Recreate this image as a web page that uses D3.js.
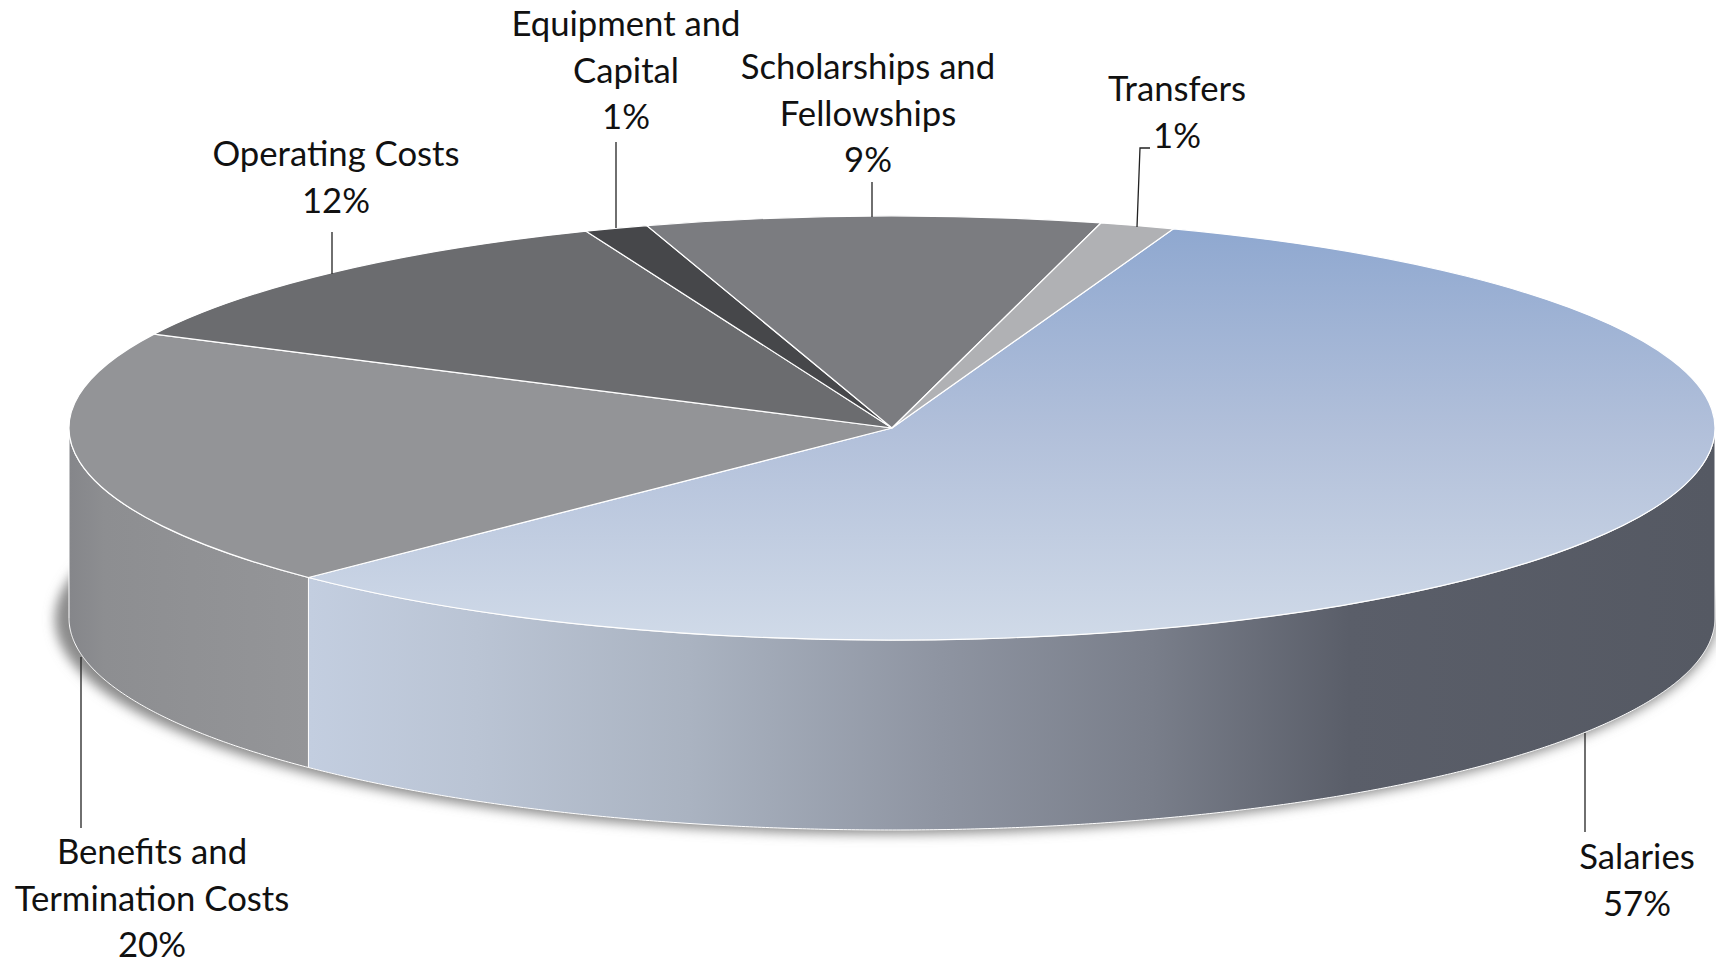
<!DOCTYPE html>
<html>
<head>
<meta charset="utf-8">
<script src="https://cdn.jsdelivr.net/npm/d3@7/dist/d3.min.js"></script>
<style>
html,body{margin:0;padding:0;background:#fff;overflow:hidden}
svg{display:block}
text{font-family:Lato,"Open Sans",sans-serif;font-size:34.7px;fill:#111;text-anchor:middle}
</style>
</head>
<body>
<svg id="chart" width="1716" height="963"></svg>
<script>
// Data, clockwise from the Salaries slice
const categories = ["Salaries", "Benefits and Termination Costs", "Operating Costs", "Equipment and Capital", "Scholarships and Fellowships", "Transfers"];
const sliceValues = [57, 19.76, 11.64, 1.25, 8.9, 1.47];
const percentLabels = ["57%", "20%", "12%", "1%", "9%", "1%"];
const labelLines = [["Salaries"], ["Benefits and", "Termination Costs"], ["Operating Costs"], ["Equipment and", "Capital"], ["Scholarships and", "Fellowships"], ["Transfers"]];

// Styles
const topFills = ["url(#salTop)", "#939497", "#6b6c6f", "#46474a", "#7b7c80", "#b0b1b4"];
const wallFills = ["url(#salWall)", "url(#benWall)", "#6b6c6f", "#46474a", "#7b7c80", "#b0b1b4"];

// Layout
const cx = 892, cy = 428, rx = 823, ry = 212, depth = 190;
const startDeg = 20;
const labelCentre = [1637, 152, 336, 626, 868, 1177];
const labelFirstBaseline = [869, 864, 166, 36, 79, 101];
const lineGap = 46.5;
const leaders = [
  [[1585, 733], [1585, 832]],
  [[81, 657], [81, 828]],
  [[332, 232], [332, 274]],
  [[616, 142], [616, 228]],
  [[872, 182], [872, 217]],
  [[1137, 227], [1140, 148], [1150, 148]]
];

const svg = d3.select("#chart");
const defs = svg.append("defs");

function gradient(id, attrs, stops, units) {
  const g = defs.append("linearGradient").attr("id", id).attr("gradientUnits", units);
  Object.entries(attrs).forEach(([k, v]) => g.attr(k, v));
  stops.forEach(([o, c]) => g.append("stop").attr("offset", o).attr("stop-color", c));
}
gradient("salTop", {x1: 0, x2: 0, y1: 0, y2: 1}, [[0, "#8fa8d0"], [0.5, "#b2c0da"], [1, "#d0dae8"]], "objectBoundingBox");
gradient("salWall", {x1: 309, x2: 1715, y1: 0, y2: 0}, [[0, "#c3cee0"], [0.12, "#bac4d4"], [0.27, "#aab3c1"], [0.45, "#8e94a1"], [0.6, "#797e8a"], [0.74, "#5a5e69"], [1, "#555963"]], "userSpaceOnUse");
gradient("benWall", {x1: 69, x2: 309, y1: 0, y2: 0}, [[0, "#85868a"], [0.15, "#8d8e91"], [1, "#949598"]], "userSpaceOnUse");

const blur = defs.append("filter").attr("id", "soft").attr("x", "-5%").attr("y", "-10%").attr("width", "110%").attr("height", "120%");
blur.append("feGaussianBlur").attr("stdDeviation", 6);

const pie = d3.pie().sort(null).value(d => d)
  .startAngle(startDeg * Math.PI / 180)
  .endAngle((startDeg + 360) * Math.PI / 180);
const slices = pie(sliceValues);

const edge = (a, y0) => [cx + rx * Math.sin(a), y0 - ry * Math.cos(a)];
const curve = d3.line();

// Soft shadow under the base
svg.append("ellipse")
  .attr("cx", cx - 6).attr("cy", cy + depth + 1)
  .attr("rx", rx + 8).attr("ry", ry + 3)
  .attr("fill", "#8a8a8a")
  .attr("filter", "url(#soft)");

// Front wall: only the part of each slice that faces the viewer
const walls = svg.append("g");
slices.forEach((s, i) => {
  const lo = Math.max(s.startAngle, Math.PI / 2), hi = Math.min(s.endAngle, Math.PI * 1.5);
  if (hi <= lo) return;
  const angles = d3.range(lo, hi, 0.005).concat([hi]);
  const upper = angles.map(a => edge(a, cy));
  const lower = angles.slice().reverse().map(a => edge(a, cy + depth));
  walls.append("path")
    .attr("d", curve(upper.concat(lower)) + "Z")
    .attr("fill", wallFills[i])
    .attr("stroke", "#fff").attr("stroke-width", 1);
});

// Top face
const arc = d3.arc().innerRadius(0).outerRadius(rx);
svg.append("g")
  .attr("transform", `translate(${cx},${cy}) scale(1,${ry / rx})`)
  .selectAll("path").data(slices).join("path")
  .attr("d", arc)
  .attr("fill", (d, i) => topFills[i])
  .attr("stroke", "#fff").attr("stroke-width", 1.2)
  .attr("vector-effect", "non-scaling-stroke");

// Leader lines
svg.append("g").selectAll("path").data(leaders).join("path")
  .attr("d", d => curve(d))
  .attr("fill", "none").attr("stroke", "#222").attr("stroke-width", 1.3);

// Labels
const labels = svg.append("g");
categories.forEach((c, i) => {
  const t = labels.append("text").attr("x", labelCentre[i]);
  labelLines[i].concat([percentLabels[i]]).forEach((line, k) => {
    t.append("tspan").attr("x", labelCentre[i]).attr("y", labelFirstBaseline[i] + k * lineGap).text(line);
  });
});
</script>
</body>
</html>
